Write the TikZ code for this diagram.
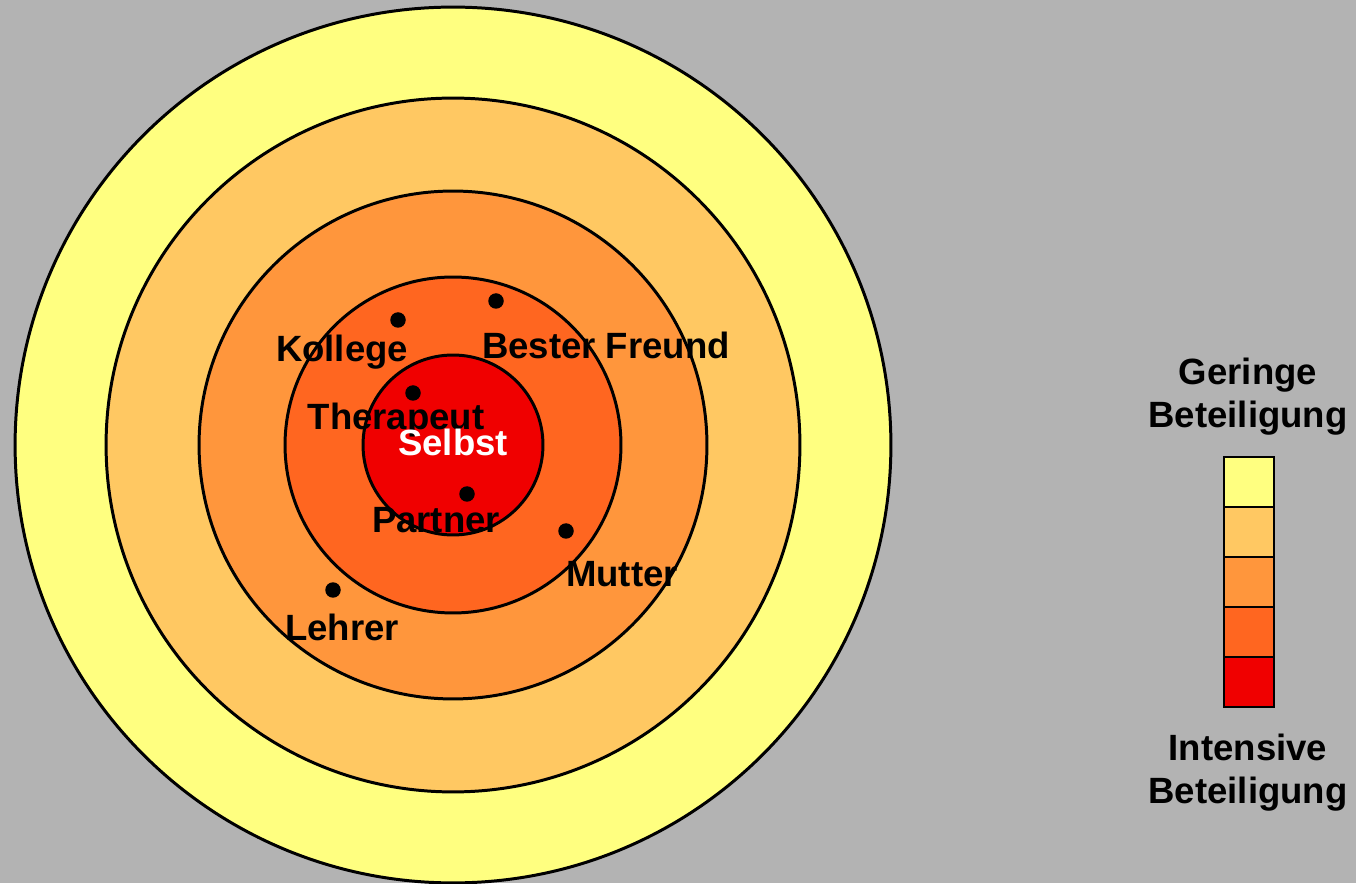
\documentclass[tikz,border=0pt]{standalone}
\usepackage{fontspec}
\setmainfont{Liberation Sans}
\definecolor{bggray}{HTML}{B3B3B3}
\definecolor{ringA}{HTML}{FFFF80}
\definecolor{ringB}{HTML}{FFC862}
\definecolor{ringC}{HTML}{FF963C}
\definecolor{ringD}{HTML}{FF6620}
\definecolor{ringE}{HTML}{F00000}

\begin{document}
\begin{tikzpicture}[x=0.02cm,y=0.02cm,ring/.style={draw,line width=1.7pt},
  member/.style={anchor=base,inner sep=0pt,font=\fontsize{20.8}{25}\selectfont\bfseries},
  dot/.style={circle,fill=black,inner sep=0pt,minimum size=0.31cm},
  legbox/.style={draw,line width=1pt,minimum width=1cm,minimum height=1cm,inner sep=0pt}]
\useasboundingbox (0,0) rectangle (1356,883);
\fill[bggray] (0,0) rectangle (1356,883);
\coordinate (c) at (453,438);
\draw[ring,fill=ringA] (c) circle (8.76cm);
\draw[ring,fill=ringB] (c) circle (6.94cm);
\draw[ring,fill=ringC] (c) circle (5.08cm);
\draw[ring,fill=ringD] (c) circle (3.36cm);
\draw[ring,fill=ringE] (c) circle (1.80cm);
\node[dot] (d1) at (398,563) {};
\node[dot] (d2) at (496,582) {};
\node[dot] (d3) at (413,490) {};
\node[dot] (d4) at (467,389) {};
\node[dot] (d5) at (566,352) {};
\node[dot] (d6) at (333,293) {};
\node[member] (kollege) at (342,521) {Kollege};
\node[member] (freund) at (606,524) {Bester Freund};
\node[member] (therapeut) at (396,453) {Therapeut};
\node[member,text=white] (selbst) at (453,427) {Selbst};
\node[member] (partner) at (436,350) {Partner};
\node[member] (mutter) at (622,296) {Mutter};
\node[member] (lehrer) at (342,242) {Lehrer};
% legend
\node[legbox,fill=ringE] (l5) at (1249,201) {};
\node[legbox,fill=ringD] (l4) at (1249,251) {};
\node[legbox,fill=ringC] (l3) at (1249,301) {};
\node[legbox,fill=ringB] (l2) at (1249,351) {};
\node[legbox,fill=ringA] (l1) at (1249,401) {};
\node[member] (gering) at (1248,498) {Geringe};
\node[member] (geringb) at (1248,455) {Beteiligung};
\node[member] (intens) at (1248,123) {Intensive};
\node[member] (intensb) at (1248,80) {Beteiligung};
\end{tikzpicture}
\end{document}
